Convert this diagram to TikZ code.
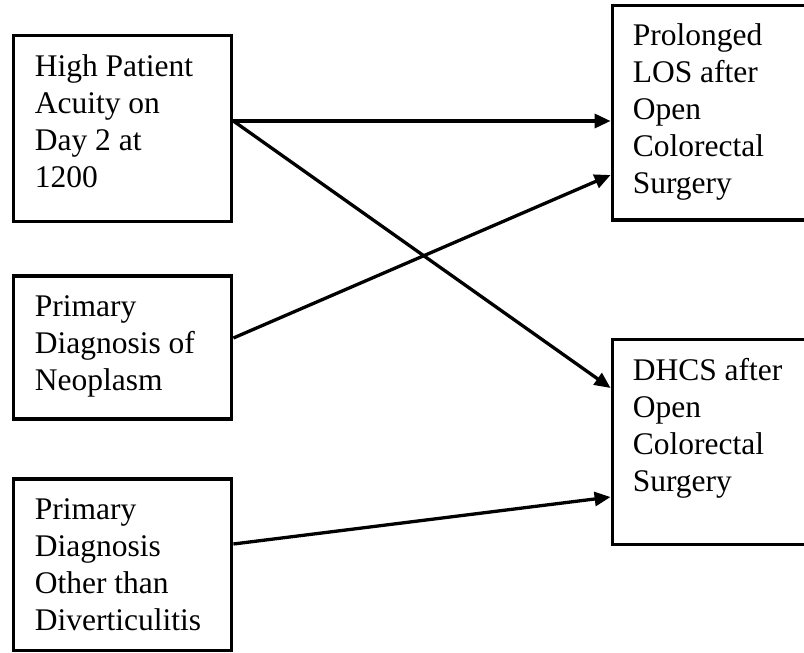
\documentclass[tikz,border=0pt]{standalone}
\usepackage{fontspec}
\setmainfont{Liberation Serif}
\usetikzlibrary{arrows.meta}
\begin{document}
\begin{tikzpicture}[x=1pt,y=-1pt,
  box/.style={draw, line width=3.8pt, inner sep=0pt, minimum width=218pt},
  label/.style={anchor=north west, inner sep=0pt, align=left, font=\fontsize{31.5}{37}\selectfont},
  conn/.style={line width=3.3pt, -{Triangle[length=16pt,width=14pt]}}]
\useasboundingbox (0,0) rectangle (804,653);
\node[box, minimum height=186pt] (A) at (122.5,128.5) {};
\node[box, minimum height=143pt] (B) at (122.5,347.5) {};
\node[box, minimum height=171.5pt] (C) at (122.5,564.75) {};
\node[box, minimum width=227.5pt, minimum height=214.5pt] (P) at (726.25,112.75) {};
\node[box, minimum width=227.5pt, minimum height=205pt] (D) at (726.25,442) {};
\node[label] (tA) at ([xshift=23pt,yshift=-16.5pt]A.north west) {\strut High Patient\\Acuity on\\Day 2 at\\1200};
\node[label] (tB) at ([xshift=23pt,yshift=-16.5pt]B.north west) {\strut Primary\\Diagnosis of\\Neoplasm};
\node[label] (tC) at ([xshift=23pt,yshift=-16.5pt]C.north west) {\strut Primary\\Diagnosis\\Other than\\Diverticulitis};
\node[label] (tP) at ([xshift=22pt,yshift=-16pt]P.north west) {\strut Prolonged\\LOS after\\Open\\Colorectal\\Surgery};
\node[label] (tD) at ([xshift=22pt,yshift=-16.5pt]D.north west) {\strut DHCS after\\Open\\Colorectal\\Surgery};
\draw[conn] ([yshift=7.5pt]A.east) -- ([yshift=-8.25pt]P.west);
\draw[conn] ([yshift=7.5pt]A.east) -- ([yshift=54pt]D.west);
\draw[conn] ([yshift=9.5pt]B.east) -- ([yshift=-62.25pt]P.west);
\draw[conn] ([yshift=20.75pt]C.east) -- ([yshift=-55pt]D.west);
\end{tikzpicture}
\end{document}
